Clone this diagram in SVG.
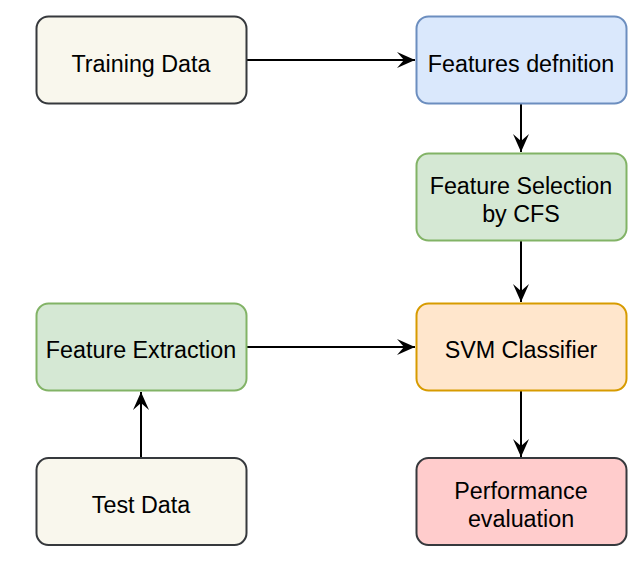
<svg xmlns="http://www.w3.org/2000/svg" width="639" height="570" viewBox="0 0 639 570">
<style>
.box{stroke-width:2}
.beige{fill:#f9f7ed;stroke:#36393d}
.blue{fill:#dae8fc;stroke:#6c8ebf}
.green{fill:#d5e8d4;stroke:#82b366}
.orange{fill:#ffe6cc;stroke:#d79b00}
.red{fill:#ffcccc;stroke:#36393d}
text{font-family:"Liberation Sans",Arial,sans-serif;font-size:23.3px;fill:#000;text-anchor:middle}
.edge{stroke:#000;stroke-width:2;fill:none;marker-end:url(#arr)}
</style>
<defs>
<marker id="arr" markerUnits="userSpaceOnUse" markerWidth="18" markerHeight="16" viewBox="-18 -8 18 16" refX="0" refY="0" orient="auto">
<path d="M0,0 L-18,-8 L-11,0 L-18,8 Z" fill="#000"/>
</marker>
</defs>
<rect width="639" height="570" fill="#fff"/>
<g id="connectors">
<line class="edge" x1="247" y1="60" x2="415" y2="60"/>
<line class="edge" x1="521" y1="104" x2="521" y2="152"/>
<line class="edge" x1="521" y1="241" x2="521" y2="302"/>
<line class="edge" x1="247" y1="347" x2="415" y2="347"/>
<line class="edge" x1="521" y1="391" x2="521" y2="457"/>
<line class="edge" x1="141" y1="457" x2="141" y2="392"/>
</g>
<g id="training-data">
<rect class="box beige" x="36.5" y="16.5" width="210" height="87" rx="12"/>
<text x="141" y="71.5">Training Data</text>
</g>
<g id="features-definition">
<rect class="box blue" x="416.5" y="16.5" width="210" height="87" rx="12"/>
<text x="521" y="71.5">Features defnition</text>
</g>
<g id="feature-selection">
<rect class="box green" x="416.5" y="153.5" width="210" height="87" rx="12"/>
<text x="521" y="194">Feature Selection</text>
<text x="521" y="222">by CFS</text>
</g>
<g id="svm-classifier">
<rect class="box orange" x="416.5" y="303.5" width="210" height="87" rx="12"/>
<text x="521" y="358">SVM Classifier</text>
</g>
<g id="feature-extraction">
<rect class="box green" x="36.5" y="303.5" width="210" height="87" rx="12"/>
<text x="141" y="358">Feature Extraction</text>
</g>
<g id="test-data">
<rect class="box beige" x="36.5" y="458" width="210" height="87" rx="12"/>
<text x="141" y="512.5">Test Data</text>
</g>
<g id="performance-evaluation">
<rect class="box red" x="416.5" y="458" width="210" height="87" rx="12"/>
<text x="521" y="498.5">Performance</text>
<text x="521" y="526.5">evaluation</text>
</g>
</svg>
